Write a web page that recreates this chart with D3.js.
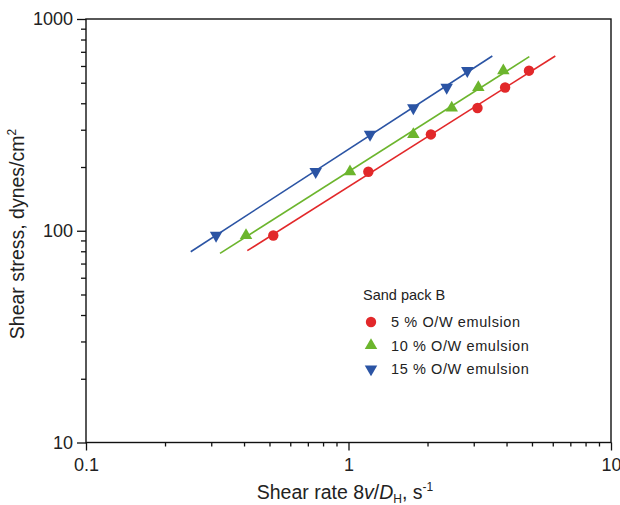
<!DOCTYPE html>
<html><head><meta charset="utf-8">
<script src="https://cdn.jsdelivr.net/npm/d3@7/dist/d3.min.js"></script>
<style>body{margin:0;background:#fff}svg{display:block}text{font-family:"Liberation Sans",Arial,sans-serif;fill:#222}</style>
</head><body>
<svg id="c" width="620" height="505"></svg>
<script>
// ---- data ----
const stress = [95, 190, 285, 380, 475, 570];
const rate5 = [0.517, 1.19, 2.06, 3.10, 3.95, 4.87];
const rate10 = [0.407, 1.013, 1.766, 2.473, 3.123, 3.889];
const rate15 = [0.313, 0.75, 1.208, 1.766, 2.366, 2.835];
// fitted power-law lines: endpoints [rate, stress]
const fit5 = [[0.4116, 80.5], [6.135, 669]];
const fit10 = [[0.324, 78.2], [4.884, 663.7]];
const fit15 = [[0.2506, 79.6], [3.531, 669]];
const seriesNames = ["5 % O/W emulsion", "10 % O/W emulsion", "15 % O/W emulsion"];
const legendTitle = "Sand pack B";
const xTicks = [0.1, 1, 10];
const xTickLabels = ["0.1", "1", "10"];
const yTicks = [10, 100, 1000];
const yTickLabels = ["10", "100", "1000"];

const colors = ["#e2282a", "#6cb52d", "#2b54a4"];
const symbols = ["circle", "up", "down"];

const svg = d3.select("#c");
const x = d3.scaleLog().domain([0.1, 10]).range([86, 611]);
const y = d3.scaleLog().domain([10, 1000]).range([442.5, 19]);

const minorX = [], minorY = [];
[0.1, 1].forEach(d => { for (let k = 2; k <= 9; k++) minorX.push(d * k); });
[10, 100].forEach(d => { for (let k = 2; k <= 9; k++) minorY.push(d * k); });

// frame
svg.append("rect").attr("x", x(0.1)).attr("y", y(1000))
  .attr("width", x(10) - x(0.1)).attr("height", y(10) - y(1000))
  .attr("fill", "none").attr("stroke", "#111").attr("stroke-width", 1.4);

const styleAxis = g => { g.select(".domain").remove(); g.selectAll("line").attr("stroke", "#111").attr("stroke-width", 1.3); };

svg.append("g").attr("transform", `translate(0,${y(10)})`)
  .call(d3.axisBottom(x).tickValues(minorX).tickSize(4).tickFormat(""))
  .call(styleAxis);
svg.append("g").attr("transform", `translate(0,${y(10)})`)
  .call(d3.axisBottom(x).tickValues(xTicks).tickSize(8).tickPadding(8).tickFormat((d, i) => xTickLabels[i]))
  .call(styleAxis)
  .selectAll("text").attr("font-size", 18).attr("fill", "#222").style("font-family", "Liberation Sans, Arial, sans-serif");

svg.append("g").attr("transform", `translate(${x(0.1)},0)`)
  .call(d3.axisLeft(y).tickValues(minorY).tickSize(5).tickFormat(""))
  .call(styleAxis);
svg.append("g").attr("transform", `translate(${x(0.1)},0)`)
  .call(d3.axisLeft(y).tickValues(yTicks).tickSize(9).tickPadding(4).tickFormat((d, i) => yTickLabels[i]))
  .call(styleAxis)
  .selectAll("text").attr("font-size", 18).attr("fill", "#222").style("font-family", "Liberation Sans, Arial, sans-serif");

// axis titles
const xt = svg.append("text").attr("x", 345).attr("y", 499).attr("text-anchor", "middle").attr("font-size", 19.5);
xt.append("tspan").text("Shear rate 8");
xt.append("tspan").attr("font-style", "italic").text("v");
xt.append("tspan").text("/");
xt.append("tspan").attr("font-style", "italic").text("D");
xt.append("tspan").attr("font-size", 12).attr("dy", 4).text("H");
xt.append("tspan").attr("dy", -4).text(", s");
xt.append("tspan").attr("font-size", 12).attr("dy", -8).text("-1");

const yt = svg.append("text").attr("transform", "translate(24,234) rotate(-90)").attr("text-anchor", "middle").attr("font-size", 19.5);
yt.append("tspan").text("Shear stress, dynes/cm");
yt.append("tspan").attr("font-size", 12).attr("dy", -8).text("2");

// fit lines
const line = d3.line().x(d => x(d[0])).y(d => y(d[1]));
[fit5, fit10, fit15].forEach((f, i) => {
  svg.append("path").attr("d", line(f)).attr("fill", "none").attr("stroke", colors[i]).attr("stroke-width", 1.6);
});

function marker(g, type, color) {
  if (type === "circle") g.append("circle").attr("r", 5.2).attr("fill", color);
  else {
    const s = 12.5, h = s * Math.sqrt(3) / 2;
    const pts = type === "up"
      ? [[0, -h * 2 / 3], [s / 2, h / 3], [-s / 2, h / 3]]
      : [[0, h * 2 / 3], [s / 2, -h / 3], [-s / 2, -h / 3]];
    g.append("polygon").attr("points", pts.map(p => p.join(",")).join(" ")).attr("fill", color);
  }
}

[rate5, rate10, rate15].forEach((rates, i) => {
  rates.forEach((r, j) => {
    const g = svg.append("g").attr("transform", `translate(${x(r)},${y(stress[j])})`);
    marker(g, symbols[i], colors[i]);
  });
});

// legend
svg.append("text").attr("x", 363).attr("y", 300).attr("font-size", 14.5).text(legendTitle);
seriesNames.forEach((n, i) => {
  const yy = 322 + i * 23.5;
  const g = svg.append("g").attr("transform", `translate(371,${yy})`);
  marker(g, symbols[i], colors[i]);
  svg.append("text").attr("x", 391).attr("y", yy + 5).attr("font-size", 14.5)
    .attr("letter-spacing", 0.6).text(n);
});
</script>
</body></html>
